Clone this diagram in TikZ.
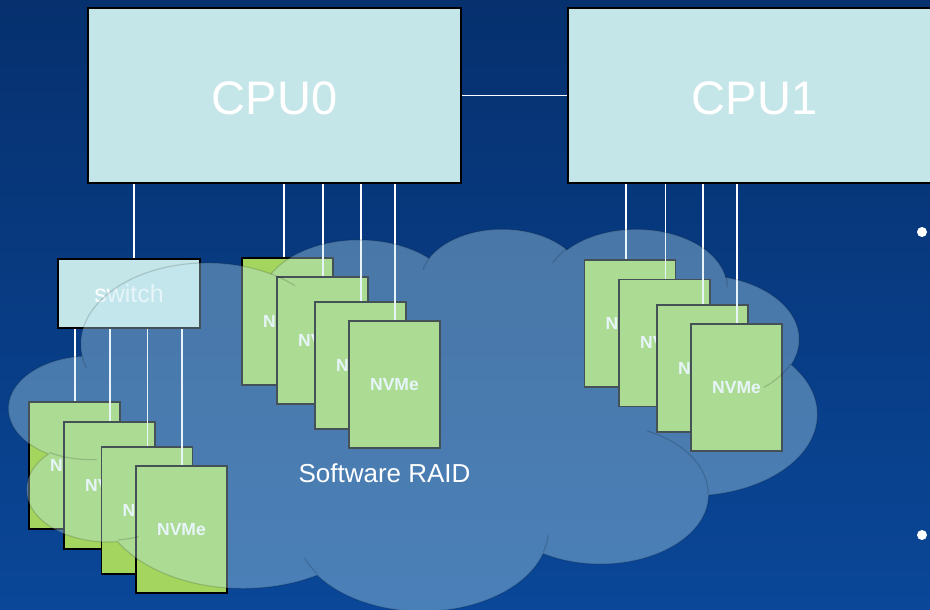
\documentclass[tikz,border=0pt]{standalone}
\usepackage{fontspec}
\setmainfont{Liberation Sans}

\definecolor{bgtop}{RGB}{6,48,110}
\definecolor{bgbot}{RGB}{10,71,152}
\definecolor{cpufill}{RGB}{197,230,232}
\definecolor{nvmefill}{RGB}{163,213,95}
\definecolor{cloudfill}{RGB}{190,230,242}

% cloud path units (preset cloud geometry on a 4320 x 4320 grid)
\def\cloudsx{0.187037pt}
\def\cloudsy{0.0884259pt}
% elliptical arc given by radii and a visual start angle / sweep (clockwise on screen)
\newcommand\carc[4]{%
  arc[start angle={-atan2((#1)*sin(#3),(#2)*cos(#3))},
      delta angle={-mod(atan2((#1)*sin((#3)+(#4)),(#2)*cos((#3)+(#4)))-atan2((#1)*sin(#3),(#2)*cos(#3))+720,360)},
      x radius={(#1)*\cloudsx}, y radius={(#2)*\cloudsy}]}

\begin{document}
\begin{tikzpicture}[x=1pt,y=-1pt,
  cpubox/.style={draw=black, line width=1.8pt, fill=cpufill, inner sep=0pt,
    minimum width=373pt, minimum height=175pt},
  cputext/.style={text=white, font=\fontsize{47}{47}\selectfont, inner sep=0pt},
  switchbox/.style={draw=black, line width=1.8pt, fill=cpufill, text=white,
    font=\fontsize{25}{25}\selectfont, inner sep=0pt,
    minimum width=142pt, minimum height=69pt},
  nvme/.style={draw=black, line width=1.8pt, fill=nvmefill, text=white,
    font=\bfseries\fontsize{17.5}{17.5}\selectfont, inner sep=0pt,
    minimum width=91pt, minimum height=127pt},
  link/.style={draw=white, line width=1.7pt},
  dot/.style={circle, fill=white, inner sep=0pt, minimum size=10pt},
  cloudedge/.style={draw=black, draw opacity=0.15, line width=1.2pt},
]
\useasboundingbox (0,0) rectangle (930,610);
\clip (0,0) rectangle (930,610);
\fill[top color=bgtop, bottom color=bgbot] (0,0) rectangle (930,610);

% processors
\node[cpubox] (cpu0) at (274.5,95.5) {};
\node[cpubox] (cpu1) at (754.5,95.5) {};
\node[cputext] (cpu0t) at ([yshift=-2.5pt]cpu0.center) {CPU0};
\node[cputext] (cpu1t) at ([yshift=-2.5pt]cpu1.center) {CPU1};
\draw[link] (cpu0.east) -- (cpu1.west);

% PCIe switch
\node[switchbox] (sw) at (129,293.5) {switch};
\draw[link] ([xshift=5pt]sw.north) -- ([xshift=5pt]sw.north |- cpu0.south);

% drives behind the switch
\node[nvme] (c1) at (74.5,465.5) {NVMe};
\node[nvme] (c2) at (109.5,485.5) {NVMe};
\node[nvme] (c3) at (147,510.5) {NVMe};
\node[nvme] (c4) at (181.5,529.5) {NVMe};
\foreach \n in {c1,c2,c3,c4}
  \draw[link] ([xshift=0.5pt]\n.north) -- ([xshift=0.5pt]\n.north |- sw.south);

% drives on CPU0
\node[nvme] (a1) at (287.5,321.5) {NVMe};
\node[nvme] (a2) at (322.5,340.5) {NVMe};
\node[nvme] (a3) at (360.5,365.5) {NVMe};
\node[nvme] (a4) at (394.5,384.5) {NVMe};
\foreach \n/\s in {a1/-3.5,a2/0.5,a3/0.5,a4/0.5}
  \draw[link] ([xshift=\s pt]\n.north) -- ([xshift=\s pt]\n.north |- cpu0.south);

% drives on CPU1
\node[nvme] (b1) at (630,323.5) {NVMe};
\node[nvme] (b2) at (664.5,343) {NVMe};
\node[nvme] (b3) at (702.5,368.5) {NVMe};
\node[nvme] (b4) at (736.5,387.5) {NVMe};
\foreach \n/\s in {b1/-4,b2/1,b3/0.5,b4/0.5}
  \draw[link] ([xshift=\s pt]\n.north) -- ([xshift=\s pt]\n.north |- cpu1.south);

% translucent cloud spanning all drives
\begin{scope}[shift={(9,228)}, x=0.187037pt, y=-0.0884259pt]
  \path[fill=cloudfill, fill opacity=0.36, cloudedge]
    (390,1437)
    \carc{675.3}{919.0}{-190.4875}{123.7805}
    \carc{533.3}{726.7}{-144.1024}{89.9452}
    \carc{436.5}{594.5}{-145.8079}{99.7230}
    \carc{485.7}{659.5}{-130.9861}{117.2417}
    \carc{533.3}{727.3}{-78.7089}{109.0269}
    \carc{677.5}{922.0}{-46.2673}{130.2690}
    \carc{578.5}{786.7}{0.6250}{114.0333}
    \carc{675.2}{921.5}{22.4516}{115.1726}
    \carc{772.0}{1054.3}{66.2426}{75.7110}
    \carc{436.0}{591.8}{-274.9421}{146.7356}
    \carc{434.5}{594.5}{-246.8285}{152.5189}
    -- cycle;
  \path[cloudedge]
    (469.3,2617.7) \carc{434.5}{594.5}{86.7420}{26.4295}
    (692.8,3489.9) \carc{436.0}{591.8}{73.6105}{11.4475}
    (1647.8,3909.0) \carc{675.2}{921.5}{137.6242}{14.0811}
    (2882.7,3475.1) \carc{675.2}{921.5}{6.4533}{15.9984}
    (3412.9,2295.4) \carc{578.5}{786.7}{-70.2924}{70.9174}
    (4179.8,1535.4) \carc{533.3}{727.3}{30.3180}{27.7515}
    (3832.4,542.6) \carc{485.7}{659.5}{-13.7443}{14.8589}
    (2907.8,395.2) \carc{485.7}{659.5}{-149.1815}{18.1954}
    (2214.1,472.0) \carc{436.5}{594.5}{-163.4943}{17.6864}
    (1400.0,519.2) \carc{675.3}{919.0}{-66.7070}{12.3194}
    (412.7,1578.9) \carc{675.3}{919.0}{157.6544}{11.8582};
\end{scope}

\node[text=white, font=\fontsize{26}{26}\selectfont] (raid) at (384.5,473) {Software RAID};

% bullet marks at the right edge
\node[dot] (d1) at (922,232) {};
\node[dot] (d2) at (922,535) {};
\end{tikzpicture}
\end{document}
